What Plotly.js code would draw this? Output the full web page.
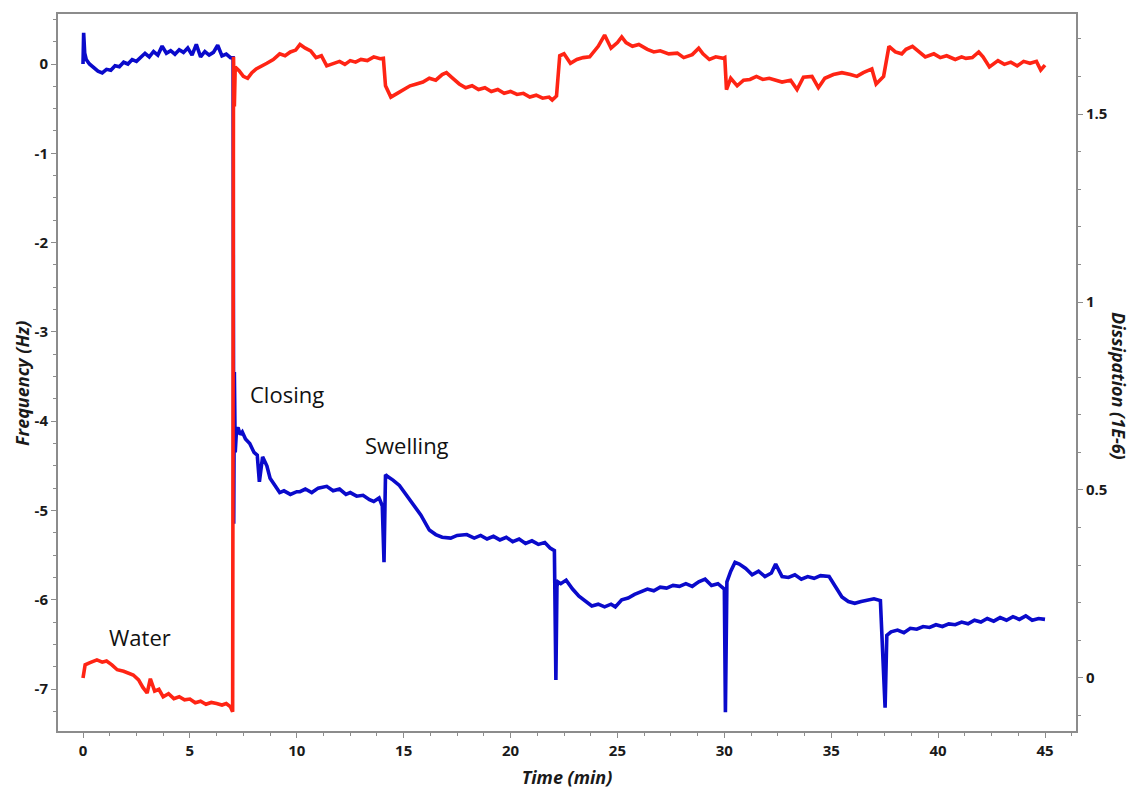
<!DOCTYPE html>
<html>
<head>
<meta charset="utf-8">
<script src="https://cdn.plot.ly/plotly-3.0.1.min.js"></script>
<style>html,body{margin:0;padding:0;background:#fff;}#chart{width:1133px;height:794px;}</style>
</head>
<body>
<div id="chart"></div>
<script>
// Frequency (Hz), left axis — blue
const freqTime = [0.00,0.03,0.08,0.15,0.3,0.5,0.7,0.9,1.1,1.3,1.5,1.7,1.9,2.1,2.3,2.5,2.7,2.9,3.1,3.3,3.5,3.7,3.9,4.1,4.3,4.5,4.7,4.9,5.1,5.3,5.5,5.7,5.9,6.1,6.3,6.5,6.7,6.9,7.02,
7.05,7.08,7.12,7.18,7.25,7.35,7.45,7.6,7.8,8.0,8.15,8.25,8.4,8.6,8.75,9.0,9.2,9.4,9.7,10.0,10.15,10.4,10.7,11.0,11.4,11.7,12.0,12.3,12.5,12.8,13.1,13.4,13.6,13.85,14.0,14.08,14.15,
14.25,14.5,14.8,15.1,15.45,15.8,16.2,16.5,16.8,17.2,17.5,17.95,18.3,18.6,18.9,19.2,19.5,19.8,20.1,20.4,20.7,21.0,21.3,21.6,21.85,22.05,22.12,22.17,22.22,22.35,22.6,22.9,23.2,23.5,23.8,24.1,24.4,24.7,24.9,25.2,25.5,25.8,26.1,26.4,26.7,27.0,27.3,27.6,27.9,28.2,28.5,28.8,29.1,29.4,29.7,29.93,
30.0,30.05,30.12,30.3,30.5,30.7,31.0,31.3,31.6,31.9,32.2,32.4,32.7,33.0,33.3,33.6,33.9,34.2,34.5,34.9,35.2,35.5,35.8,36.1,36.4,36.7,37.0,37.3,37.42,37.52,37.6,37.68,37.8,38.1,38.4,38.7,39.0,39.3,39.6,39.9,40.2,40.5,40.8,41.1,41.4,41.7,42.0,42.3,42.6,42.9,43.2,43.5,43.8,44.1,44.4,44.7,45.0];
const freqHz = [0.00,0.35,0.12,0.05,0.00,-0.04,-0.08,-0.10,-0.06,-0.07,-0.02,-0.03,0.02,0.00,0.05,0.03,0.07,0.12,0.08,0.14,0.10,0.20,0.12,0.15,0.11,0.16,0.13,0.18,0.10,0.22,0.08,0.14,0.10,0.13,0.21,0.09,0.11,0.07,0.07,
-5.15,-3.45,-4.35,-4.10,-4.07,-4.15,-4.12,-4.20,-4.25,-4.35,-4.38,-4.68,-4.40,-4.50,-4.64,-4.72,-4.80,-4.78,-4.82,-4.79,-4.79,-4.76,-4.80,-4.75,-4.73,-4.78,-4.76,-4.82,-4.80,-4.84,-4.83,-4.88,-4.90,-4.86,-4.95,-5.58,-4.60,
-4.62,-4.66,-4.72,-4.82,-4.92,-5.05,-5.22,-5.27,-5.30,-5.31,-5.28,-5.27,-5.31,-5.28,-5.32,-5.29,-5.33,-5.30,-5.35,-5.32,-5.37,-5.34,-5.38,-5.36,-5.42,-5.45,-6.90,-5.85,-5.80,-5.82,-5.78,-5.88,-5.96,-6.02,-6.07,-6.05,-6.08,-6.05,-6.08,-6.00,-5.98,-5.94,-5.91,-5.88,-5.90,-5.86,-5.87,-5.84,-5.85,-5.82,-5.85,-5.80,-5.77,-5.84,-5.82,-5.86,
-5.88,-7.26,-5.80,-5.68,-5.58,-5.60,-5.65,-5.72,-5.68,-5.74,-5.70,-5.60,-5.74,-5.75,-5.72,-5.77,-5.74,-5.76,-5.73,-5.74,-5.85,-5.97,-6.02,-6.04,-6.02,-6.01,-5.99,-6.01,-6.60,-7.21,-6.40,-6.38,-6.36,-6.34,-6.37,-6.32,-6.33,-6.30,-6.31,-6.28,-6.30,-6.27,-6.28,-6.25,-6.27,-6.23,-6.25,-6.21,-6.24,-6.20,-6.23,-6.19,-6.22,-6.18,-6.23,-6.21,-6.22];

// Dissipation (1E-6), right axis — red
const dissTime = [0.0,0.1,0.3,0.65,0.9,1.1,1.35,1.6,1.9,2.15,2.35,2.6,2.8,3.0,3.15,3.35,3.55,3.75,4.0,4.25,4.5,4.75,5.0,5.25,5.5,5.75,6.0,6.25,6.5,6.7,6.9,7.0,
7.04,7.08,7.12,7.3,7.5,7.7,7.9,8.1,8.3,8.6,8.9,9.2,9.45,9.7,9.95,10.15,10.4,10.65,10.9,11.15,11.4,11.7,12.0,12.25,12.5,12.75,13.0,13.3,13.6,13.9,14.05,
14.15,14.4,14.7,15.0,15.3,15.6,15.9,16.2,16.5,16.8,17.0,17.3,17.6,17.9,18.2,18.5,18.8,19.1,19.4,19.7,20.0,20.3,20.6,20.9,21.2,21.5,21.8,21.95,22.15,
22.3,22.5,22.8,23.1,23.4,23.7,24.1,24.4,24.7,25.0,25.2,25.4,25.7,26.0,26.4,26.7,27.0,27.4,27.8,28.1,28.5,28.8,29.0,29.3,29.6,29.95,30.02,
30.1,30.3,30.6,30.9,31.2,31.5,31.8,32.1,32.4,32.7,33.1,33.4,33.7,34.1,34.4,34.7,35.1,35.5,35.9,36.2,36.5,36.9,37.1,37.35,37.45,
37.7,38.0,38.3,38.5,38.8,39.1,39.4,39.8,40.1,40.4,40.8,41.1,41.3,41.6,41.9,42.1,42.4,42.8,43.1,43.4,43.7,44.0,44.3,44.6,44.8,45.0];
const dissVal = [0.00,0.035,0.04,0.048,0.042,0.045,0.035,0.022,0.018,0.012,0.008,-0.005,-0.025,-0.04,-0.002,-0.035,-0.03,-0.05,-0.042,-0.055,-0.05,-0.058,-0.056,-0.066,-0.062,-0.07,-0.065,-0.068,-0.072,-0.068,-0.077,-0.09,
1.652,1.52,1.625,1.615,1.60,1.595,1.61,1.62,1.625,1.635,1.645,1.66,1.655,1.665,1.67,1.685,1.675,1.668,1.65,1.655,1.628,1.635,1.64,1.632,1.642,1.638,1.645,1.642,1.652,1.647,1.648,
1.575,1.545,1.555,1.565,1.575,1.58,1.585,1.595,1.59,1.605,1.61,1.595,1.58,1.57,1.575,1.565,1.57,1.56,1.565,1.555,1.56,1.552,1.555,1.545,1.55,1.542,1.545,1.537,1.548,1.655,
1.66,1.635,1.645,1.65,1.652,1.68,1.71,1.675,1.69,1.705,1.69,1.68,1.685,1.672,1.665,1.668,1.66,1.662,1.65,1.658,1.675,1.66,1.645,1.652,1.648,1.65,1.565,
1.595,1.575,1.59,1.592,1.60,1.592,1.595,1.59,1.585,1.59,1.565,1.598,1.60,1.57,1.595,1.605,1.61,1.605,1.60,1.61,1.62,1.58,1.595,1.60,1.68,
1.665,1.66,1.672,1.68,1.665,1.652,1.66,1.65,1.655,1.645,1.652,1.648,1.65,1.665,1.652,1.625,1.642,1.632,1.638,1.628,1.64,1.635,1.64,1.617,1.63,1.635];

const xTickVals = [0,5,10,15,20,25,30,35,40,45];
const xTickText = ["0","5","10","15","20","25","30","35","40","45"];
const yTickVals = [0,-1,-2,-3,-4,-5,-6,-7];
const yTickText = ["0","-1","-2","-3","-4","-5","-6","-7"];
const y2TickVals = [0,0.5,1,1.5];
const y2TickText = ["0","0.5","1","1.5"];

const tickFont = {family:"Liberation Sans Narrow, Open Sans, sans-serif", size:15, color:"#1a1a1a", weight:"bold"};
const titleFont = {family:"Open Sans, sans-serif", size:18, color:"#1a1a1a", style:"italic", weight:"bold"};
const noteFont = {family:"Open Sans, sans-serif", size:22, color:"#111"};
const axisCommon = {showgrid:false, zeroline:false, showline:true, linecolor:"#8c8c8c", linewidth:2,
  ticks:"outside", ticklen:5, tickwidth:1, tickcolor:"#8c8c8c", tickfont:tickFont};

const traces = [
  {x:dissTime, y:dissVal, yaxis:"y2", type:"scatter", mode:"lines", line:{color:"#ff2414", width:3.6}, hoverinfo:"skip"},
  {x:freqTime, y:freqHz, type:"scatter", mode:"lines", line:{color:"#0a0acb", width:3.6}, hoverinfo:"skip"}
];

const L = 58, R = 57, T = 14, B = 63, W = 1133, H = 794;
const plotW = W-L-R, plotH = H-T-B;
const px = v => (v-L)/plotW, py = v => (H-B-v)/plotH;

const layout = {
  width:W, height:H,
  margin:{l:L, r:R, t:T, b:B},
  paper_bgcolor:"#fff", plot_bgcolor:"#fff",
  showlegend:false,
  xaxis:Object.assign({}, axisCommon, {range:[-1.17,46.45], tickvals:xTickVals, ticktext:xTickText, mirror:true,
    minor:{dtick:1.25, tick0:0, ticks:"outside", ticklen:3, tickcolor:"#8c8c8c", showgrid:false},
    title:{text:"Time (min)", standoff:12, font:{family:"Liberation Sans Narrow, Open Sans, sans-serif", size:18, color:"#1a1a1a", style:"italic", weight:"bold"}}}),
  yaxis:Object.assign({}, axisCommon, {range:[-7.47,0.56], tickvals:yTickVals, ticktext:yTickText,
    minor:{dtick:0.25, tick0:0, ticks:"outside", ticklen:3, tickcolor:"#8c8c8c", showgrid:false}}),
  yaxis2:Object.assign({}, axisCommon, {range:[-0.141,1.766], overlaying:"y", side:"right", tickvals:y2TickVals, ticktext:y2TickText,
    minor:{dtick:0.1, tick0:0, ticks:"outside", ticklen:3, tickcolor:"#8c8c8c", showgrid:false}}),
  annotations:[
    {x:2.67, y:-6.42, xref:"x", yref:"y", text:"Water", showarrow:false, font:noteFont},
    {x:9.54, y:-3.70, xref:"x", yref:"y", text:"Closing", showarrow:false, font:noteFont},
    {x:15.16, y:-4.27, xref:"x", yref:"y", text:"Swelling", showarrow:false, font:noteFont},
    {x:px(22), y:py(384), xref:"paper", yref:"paper", xanchor:"center", yanchor:"middle", text:"Frequency (Hz)", showarrow:false, textangle:-90, font:titleFont},
    {x:px(1119), y:py(386), xref:"paper", yref:"paper", xanchor:"center", yanchor:"middle", text:"Dissipation (1E-6)", showarrow:false, textangle:90, font:titleFont}
  ]
};

Plotly.newPlot("chart", traces, layout, {staticPlot:true, displayModeBar:false});
</script>
</body>
</html>
